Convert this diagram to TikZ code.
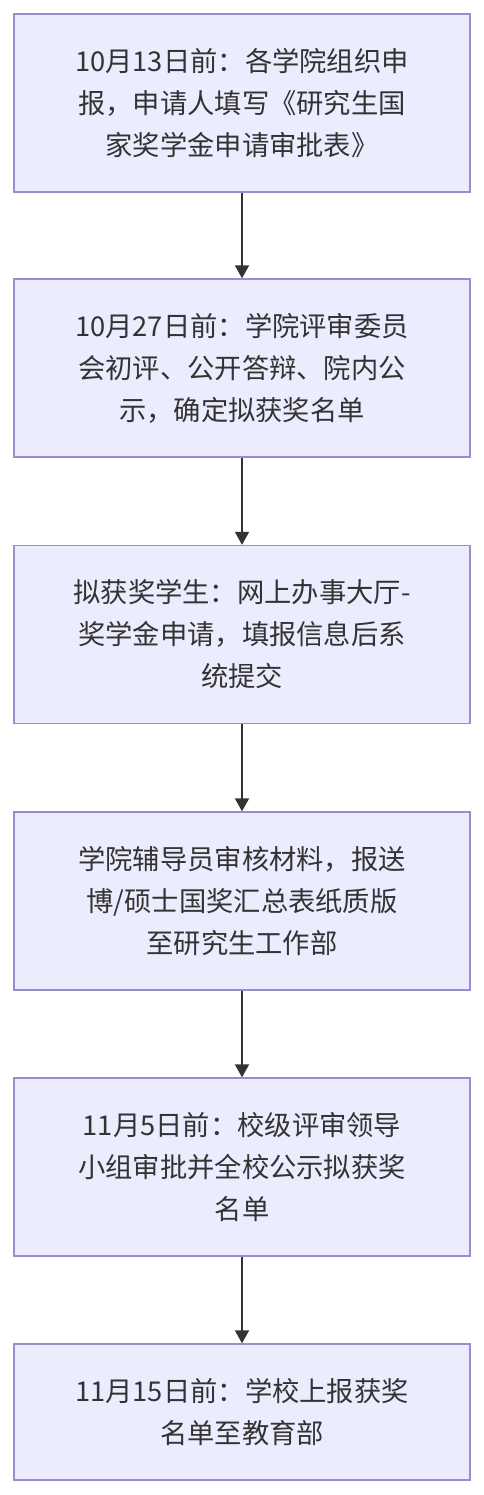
\documentclass[tikz,border=0pt]{standalone}
\usepackage{fontspec}
\setmainfont{Noto Sans CJK SC}
\usetikzlibrary{arrows.meta}
\definecolor{boxfill}{HTML}{ECECFF}
\definecolor{boxline}{HTML}{9C8CCB}
\definecolor{txt}{HTML}{333333}
\tikzset{
  stepbox/.style={draw=boxline, line width=1.4pt, fill=boxfill, minimum width=456pt, inner sep=0pt, align=center, text=txt, font=\fontsize{27.3pt}{42pt}\selectfont},
  flow/.style={draw=txt, line width=2pt, -{Triangle[length=13pt,width=14pt]}}
}
\begin{document}
\begin{tikzpicture}[x=1pt,y=-1pt]
\useasboundingbox[fill=white] (0,0) rectangle (484,1495);
\node[stepbox, minimum height=178pt] (b1) at (242,103) {10月13日前：各学院组织申\\报，申请人填写《研究生国\\家奖学金申请审批表》};
\node[stepbox, minimum height=178pt] (b2) at (242,368) {10月27日前：学院评审委员\\会初评、公开答辩、院内公\\示，确定拟获奖名单};
\node[stepbox, minimum height=178pt] (b3) at (242,634.5) {拟获奖学生：网上办事大厅-\\奖学金申请，填报信息后系\\统提交};
\node[stepbox, minimum height=178pt] (b4) at (242,901) {学院辅导员审核材料，报送\\博/硕士国奖汇总表纸质版\\至研究生工作部};
\node[stepbox, minimum height=178pt] (b5) at (242,1167) {11月5日前：校级评审领导\\小组审批并全校公示拟获奖\\名单};
\node[stepbox, minimum height=136pt] (b6) at (242,1412) {11月15日前：学校上报获奖\\名单至教育部};
\draw[flow] (b1) -- (b2);
\draw[flow] (b2) -- (b3);
\draw[flow] (b3) -- (b4);
\draw[flow] (b4) -- (b5);
\draw[flow] (b5) -- (b6);
\end{tikzpicture}
\end{document}
